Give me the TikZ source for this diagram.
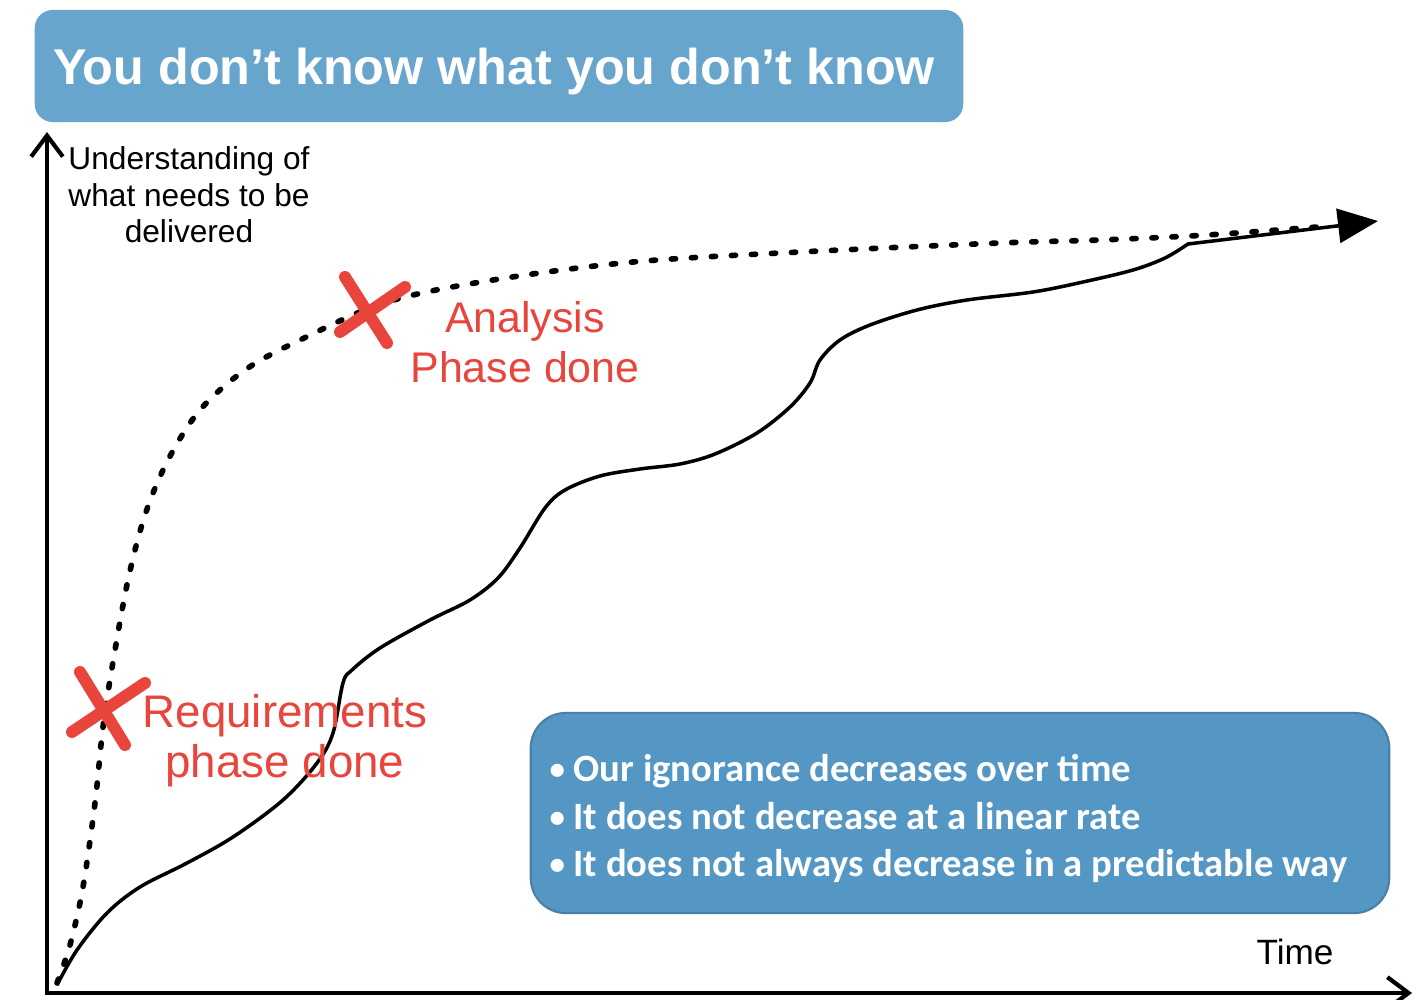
\documentclass[tikz,border=0pt]{standalone}
\usepackage{fontspec}
\setmainfont{Liberation Sans}
\newfontfamily\notefont{Carlito}
\usetikzlibrary{arrows.meta}

\definecolor{titleblue}{HTML}{68A5CD}
\definecolor{noteblue}{HTML}{5497C5}
\definecolor{noteedge}{HTML}{4A7FA6}
\definecolor{markred}{HTML}{E8453C}

\newcommand{\notebullet}{\raisebox{0.12ex}{\scalebox{0.8}{\textbullet}}\hspace{0.22em}}

\begin{document}
\begin{tikzpicture}[x = 0.01cm, y = -0.01cm,
	axis/.style = {line width = 1.2pt},
	curve/.style = {line width = 1pt, line join = round},
	dotline/.style = {line width = 1.6pt, line cap = round, dash pattern = on 1.2pt off 4.5pt},
	cross/.style = {markred, line width = 3.4pt, line cap = round},
	redtext/.style = {text = markred, align = center, inner sep = 0pt},
	every node/.style = {font = \fontsize{9}{10.4}\selectfont}]

	\useasboundingbox (0, 0) rectangle (1426, 1000);

	% Title banner
	
	\node [fill = titleblue, rounded corners = 0.18cm, minimum width = 9.28cm, minimum height = 1.12cm] (title) at (499, 66) {};
	\node [text = white, inner sep = 0pt, anchor = base, font = \fontsize{14.3}{16}\selectfont\bfseries] (titletext) at (494, 84)
		{You don’t know what you don’t know};
	
	% Axes
	
	\coordinate (origin) at (47, 993);
	\coordinate (ytop) at (47, 132);
	\coordinate (xend) at (1412, 993);
	
	\draw [axis, {Straight Barb[length = 6pt, width = 9pt]}-{Straight Barb[length = 6pt, width = 9pt]}]
		(ytop) -- (origin) -- (xend);
	
	\node [align = center, inner sep = 0pt, anchor = north] (ylabel) at (189, 146) {Understanding of\\what needs to be\\delivered};
	\node [inner sep = 0pt, anchor = base, font = \fontsize{10}{12}\selectfont] (xlabel) at (1295, 964) {Time};
	
	% Expected understanding (dotted)
	
	\draw [dotline] plot [smooth, tension = 0.55] coordinates {(57, 983) (70, 945) (83, 887) (95, 803) (103, 727)
		(113, 662) (128, 580) (145, 515) (168, 460) (200, 410) (245, 370) (300, 340) (387, 302)
		(493, 280) (633, 262) (800, 252) (1000, 243) (1100, 240) (1207, 235) (1330, 226)};
	
	% Actual understanding (solid)
	
	\draw [curve, -{Triangle[length = 4mm, width = 3.4mm]}] plot [smooth, tension = 0.55] coordinates {(57, 985) (77, 950)
		(107, 913) (140, 887) (187, 863) (233, 837) (283, 800) (317, 763) (333, 733) (343, 683) (352, 670)
		(380, 648) (430, 620) (470, 600) (498, 578) (520, 548) (545, 508) (565, 490) (600, 476) (640, 469)
		(680, 464) (715, 454) (757, 433) (790, 407) (810, 383) (820, 360) (840, 340) (870, 325) (917, 310)
		(967, 300) (1033, 292) (1083, 282) (1133, 270) (1165, 258) (1188, 244)} -- (1378, 221);
	
	% Phase marks
	
	\begin{scope}[cross]
	
		\draw (345, 277) -- (387, 343);
		\draw (340, 332) -- (405, 287);
		\draw (80, 672) -- (125, 745);
		\draw (72, 732) -- (145, 683);
	
	\end{scope}
	
	\node [redtext, anchor = north, font = \fontsize{12.2}{14.2}\selectfont] (analysis) at (525, 301) {Analysis\\Phase done};
	\node [redtext, anchor = north, font = \fontsize{13}{14.2}\selectfont] (requirements) at (285, 694) {Requirements\\phase done};
	
	% Notes box
	
	\node [draw = noteedge, line width = 0.6pt, fill = noteblue, rounded corners = 0.35cm,
		minimum width = 8.58cm, minimum height = 2cm] (notes) at (960, 813) {};
	\node [anchor = north west, align = left, inner sep = 0pt, text = white,
		font = \fontsize{11}{13.5}\selectfont\notefont\bfseries] (notetext) at (549, 754)
		{\notebullet Our ignorance decreases over time\\\notebullet It does not decrease at a linear rate\\\notebullet It does not always decrease in a predictable way};

\end{tikzpicture}
\end{document}
